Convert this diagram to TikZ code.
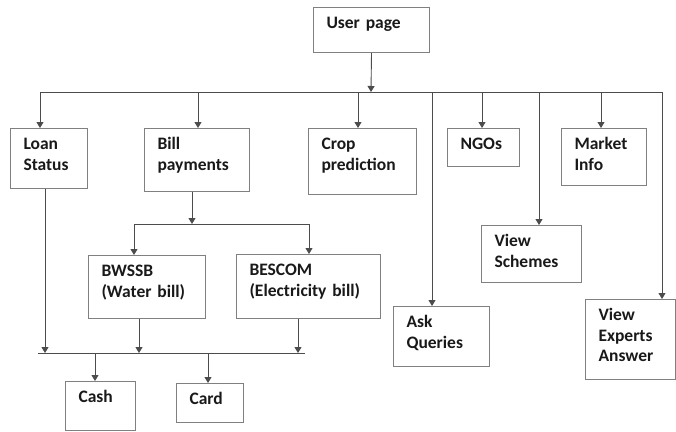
\documentclass[tikz,border=0pt]{standalone}
\usepackage{fontspec}
\setmainfont{Carlito}
\usepackage{tikz}
\usetikzlibrary{arrows.meta}
\begin{document}
\begin{tikzpicture}[x=1pt, y=-1pt,
    box/.style={draw=black!50, line width=1pt, anchor=north west, align=left,
      inner xsep=13pt, inner ysep=8pt, text height=13pt,
      font=\fontsize{17.5}{20.5}\selectfont\bfseries, text=black!90},
    link/.style={draw=black!70, line width=0.9pt},
    arr/.style={link, -{Triangle[width=7pt,length=6pt]}}]
    \useasboundingbox (0,0) rectangle (676,431);
    \node[box, text width=90pt, text depth=16pt] (user) at (313,7) {User page};
    \node[box, text width=51pt, text depth=31pt] (loan) at (10,128) {Loan\\Status};
    \node[box, text width=79pt, text depth=34pt] (bill) at (144,128) {Bill\\payments};
    \node[box, text width=82pt, text depth=37pt] (crop) at (308,128) {Crop\\prediction};
    \node[box, text width=46pt, text depth=9pt] (ngo) at (447,128) {NGOs};
    \node[box, text width=59pt, text depth=28pt] (market) at (561,128) {Market\\Info};
    \node[box, text width=74pt, text depth=28pt] (schemes) at (481,225) {View\\Schemes};
    \node[box, text width=70pt, text depth=31pt] (ask) at (393,306) {Ask\\Queries};
    \node[box, text width=64pt, text depth=51pt] (experts) at (585,299) {View\\Experts\\Answer};
    \node[box, text width=91pt, text depth=34pt] (bwssb) at (88,255) {BWSSB\\(Water bill)};
    \node[box, text width=118pt, text depth=35pt] (bescom) at (236,254) {BESCOM\\(Electricity bill)};
    \node[box, text width=44pt, text depth=20pt] (cash) at (65,381) {Cash};
    \node[box, text width=41pt, text depth=10pt] (card) at (176,383) {Card};

    \coordinate (top) at (371,92);
    \coordinate (busL) at (40,92);
    \coordinate (busR) at (662,92);
    \draw[arr] (user.south) -- (top);
    \draw[link] (busL) -- (busR);
    \foreach \x/\n in {40/loan, 198/bill, 358/crop, 432/ask, 482/ngo, 539/schemes, 601/market, 662/experts} {
        \coordinate (b\n) at (\x,92);
        \draw[arr] (b\n) -- (b\n |- \n.north);
    }

    \coordinate (sub) at (192,224);
    \coordinate (subL) at (134,224);
    \coordinate (subR) at (309,224);
    \draw[arr] (bill.south -| sub) -- (sub);
    \draw[link] (subL) -- (subR);
    \draw[arr] (subL) -- (subL |- bwssb.north);
    \draw[arr] (subR) -- (subR |- bescom.north);

    \coordinate (payL) at (38,353);
    \coordinate (payR) at (305,353);
    \draw[link] (payL) -- (payR);
    \foreach \x/\n in {45/loan, 139/bwssb, 298/bescom} {
        \coordinate (p\n) at (\x,353);
        \draw[arr] (p\n |- \n.south) -- (p\n);
    }
    \foreach \x/\n in {95/cash, 208/card} {
        \coordinate (q\n) at (\x,353);
        \draw[arr] (q\n) -- (q\n |- \n.north);
    }
\end{tikzpicture}
\end{document}
